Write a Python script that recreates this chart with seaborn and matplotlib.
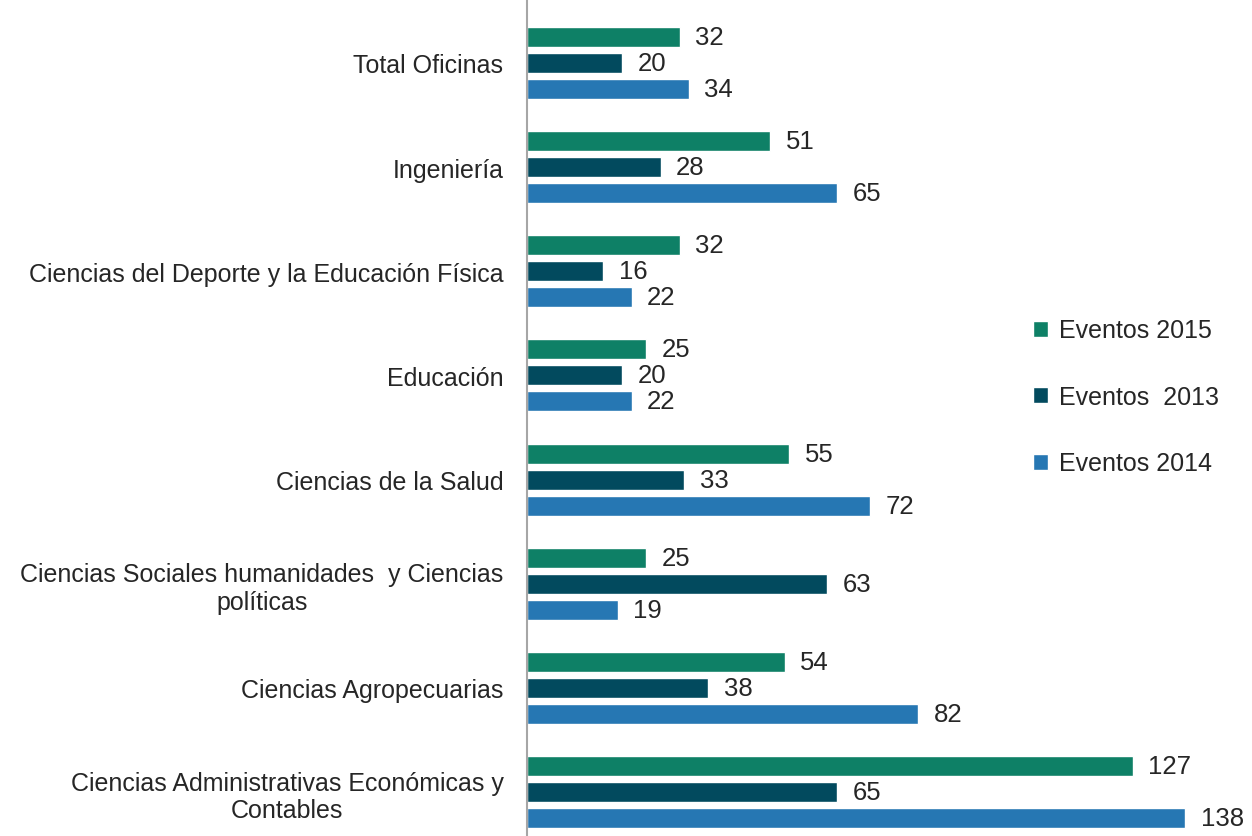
import pandas as pd
import numpy as np
import matplotlib
matplotlib.use("Agg")
import matplotlib.pyplot as plt
import seaborn as sns

# -------------------------------
# Data
# -------------------------------
categories = [
    "Total Oficinas",
    "Ingeniería",
    "Ciencias del Deporte y la Educación Física",
    "Educación",
    "Ciencias de la Salud",
    "Ciencias Sociales humanidades  y Ciencias\npolíticas",
    "Ciencias Agropecuarias",
    "Ciencias Administrativas Económicas y\nContables",
]
series_names = ["Eventos 2015", "Eventos  2013", "Eventos 2014"]
eventos_2015 = [32, 51, 32, 25, 55, 25, 54, 127]
eventos_2013 = [20, 28, 16, 20, 33, 63, 38, 65]
eventos_2014 = [34, 65, 22, 22, 72, 19, 82, 138]
colors = ["#0e8066", "#024a5e", "#2677b3"]

rows = []
for name, vals in zip(series_names, [eventos_2015, eventos_2013, eventos_2014]):
    for cat, v in zip(categories, vals):
        rows.append({"Categoria": cat, "Serie": name, "Valor": v})
df = pd.DataFrame(rows)

# -------------------------------
# Plot
# -------------------------------
sns.set_style("white")
plt.rcParams["font.family"] = ["Liberation Sans", "DejaVu Sans"]

W, H = 1252, 837
fig = plt.figure(figsize=(W / 100, H / 100), dpi=100)
ax = fig.add_axes([527 / W, -8.1 / H, (W - 527) / W, 833.2 / H])

sns.barplot(
    data=df, y="Categoria", x="Valor", hue="Serie",
    order=categories, hue_order=series_names,
    palette=colors, orient="h", width=0.75, gap=0.23,
    saturation=1, ax=ax, legend=True,
)

for container in ax.containers:
    ax.bar_label(container, padding=11, fontsize=18.5, color="#262626")

ax.set_xlim(0, 152)
ax.set_xlabel("")
ax.set_ylabel("")
ax.set_xticks([])
ax.tick_params(axis="y", length=0, pad=17, labelsize=18, labelcolor="#262626")
for lbl in ax.get_yticklabels():
    lbl.set_multialignment("center")

sns.despine(ax=ax, left=False, bottom=True)
ax.spines["left"].set_color("#a6a6a6")
ax.spines["left"].set_linewidth(1.5)
ax.spines["left"].set_bounds(-0.65, 7.6)

ax.legend(
    loc="center left", bbox_to_anchor=(1010 / W, 1 - 398 / H),
    bbox_transform=fig.transFigure, frameon=False, fontsize=18,
    handlelength=0.6, handleheight=0.6, handletextpad=0.45,
    labelspacing=1.7, labelcolor="#262626",
)

plt.savefig("out.png", dpi=100)
plt.close()
